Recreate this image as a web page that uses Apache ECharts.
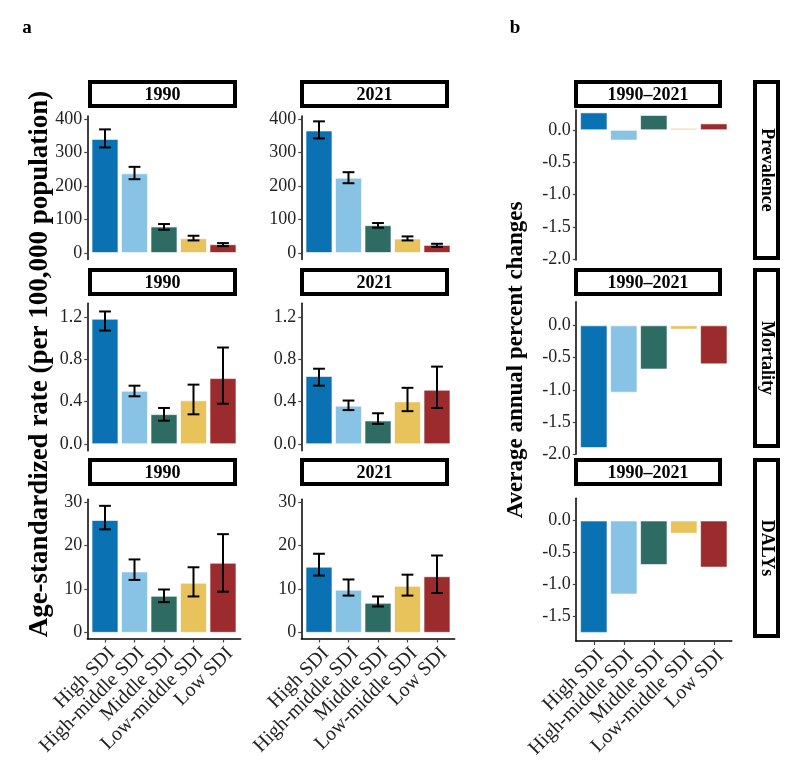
<!DOCTYPE html>
<html>
<head>
<meta charset="utf-8">
<script src="https://cdn.jsdelivr.net/npm/echarts@6/dist/echarts.min.js"></script>
<style>
  html, body { margin: 0; padding: 0; background: #fff; }
  #chart { width: 800px; height: 779px; }
</style>
</head>
<body>
<div id="chart"></div>
<script>
const categories = ['High SDI', 'High-middle SDI', 'Middle SDI', 'Low-middle SDI', 'Low SDI'];
const barColors = ['#0A72B3', '#88C3E6', '#2D6B63', '#E8C25B', '#9B2B2C'];

// a: age-standardized rates with uncertainty intervals
const prevalence1990 = [340, 237, 78, 43, 25];
const prevalence1990Lower = [315, 220, 69, 37, 20];
const prevalence1990Upper = [369, 257, 86, 51, 29];
const prevalence2021 = [365, 224, 82, 42, 23];
const prevalence2021Lower = [342, 208, 75, 37, 18];
const prevalence2021Upper = [393, 241, 89, 49, 27];

const mortality1990 = [1.18, 0.50, 0.28, 0.41, 0.62];
const mortality1990Lower = [1.07, 0.45, 0.22, 0.28, 0.38];
const mortality1990Upper = [1.25, 0.55, 0.34, 0.56, 0.91];
const mortality2021 = [0.64, 0.36, 0.22, 0.40, 0.51];
const mortality2021Lower = [0.55, 0.32, 0.19, 0.31, 0.34];
const mortality2021Upper = [0.71, 0.41, 0.29, 0.53, 0.73];

const dalys1990 = [25.8, 14.0, 8.4, 11.4, 16.0];
const dalys1990Lower = [23.7, 12.1, 7.0, 8.3, 9.4];
const dalys1990Upper = [29.1, 16.8, 9.9, 15.0, 22.6];
const dalys2021 = [15.1, 9.8, 6.8, 10.7, 12.9];
const dalys2021Lower = [13.1, 8.5, 6.0, 8.5, 9.1];
const dalys2021Upper = [18.1, 12.2, 8.3, 13.3, 17.7];

// b: average annual percent change 1990-2021
const aapcPrevalence = [0.27, -0.16, 0.23, 0.03, 0.10];
const aapcMortality = [-1.90, -1.04, -0.68, -0.06, -0.60];
const aapcDalys = [-1.75, -1.15, -0.69, -0.20, -0.73];

// tick labels
const prevalenceTicks = [0, 100, 200, 300, 400];
const mortalityTicks = [0, 0.4, 0.8, 1.2];
const dalysTicks = [0, 10, 20, 30];
const aapcTicks = [-2, -1.5, -1, -0.5, 0];
const aapcDalysTicks = [-1.5, -1, -0.5, 0];
const catTicks = [0, 1, 2, 3, 4];

const FONT = 'Liberation Serif';

// panel layout (pixels)
const cols = [
  { l: 87.3, r: 240.7 },
  { l: 301.3, r: 454.7 },
  { l: 575.8, r: 731.8 }
];

const panels = [
  { col: 0, top: 116, bottom: 259.5, min: -20, max: 409, ticks: prevalenceTicks, dec: 0, vals: prevalence1990, lo: prevalence1990Lower, hi: prevalence1990Upper, xaxis: false },
  { col: 1, top: 116, bottom: 259.5, min: -20, max: 409, ticks: prevalenceTicks, dec: 0, vals: prevalence2021, lo: prevalence2021Lower, hi: prevalence2021Upper, xaxis: false },
  { col: 2, top: 110, bottom: 260, min: -2.01, max: 0.31, ticks: aapcTicks, dec: 1, vals: aapcPrevalence, xaxis: false },
  { col: 0, top: 303.3, bottom: 450.7, min: -0.063, max: 1.327, ticks: mortalityTicks, dec: 1, vals: mortality1990, lo: mortality1990Lower, hi: mortality1990Upper, xaxis: false },
  { col: 1, top: 303.3, bottom: 450.7, min: -0.063, max: 1.327, ticks: mortalityTicks, dec: 1, vals: mortality2021, lo: mortality2021Lower, hi: mortality2021Upper, xaxis: false },
  { col: 2, top: 301.7, bottom: 454.3, min: -2.0, max: 0.37, ticks: aapcTicks, dec: 1, vals: aapcMortality, xaxis: false },
  { col: 0, top: 499.3, bottom: 638.5, min: -1.35, max: 30.6, ticks: dalysTicks, dec: 0, vals: dalys1990, lo: dalys1990Lower, hi: dalys1990Upper, xaxis: true },
  { col: 1, top: 499.3, bottom: 638.5, min: -1.35, max: 30.6, ticks: dalysTicks, dec: 0, vals: dalys2021, lo: dalys2021Lower, hi: dalys2021Upper, xaxis: true },
  { col: 2, top: 498.3, bottom: 641, min: -1.88, max: 0.35, ticks: aapcDalysTicks, dec: 1, vals: aapcDalys, xaxis: true }
];

const grid = [];
const xAxis = [];
const yAxis = [];
const series = [];

panels.forEach((p, i) => {
  const c = cols[p.col];
  const unit = (c.r - c.l) / 5.2;
  grid.push({ left: c.l, top: p.top, width: c.r - c.l, height: p.bottom - p.top });

  xAxis.push({
    type: 'value',
    gridIndex: i,
    min: -0.6,
    max: 4.6,
    splitLine: { show: false },
    axisLine: { show: p.xaxis, onZero: false, lineStyle: { color: '#000', width: 1.5 } },
    axisTick: { show: p.xaxis, customValues: catTicks, length: 4, lineStyle: { color: '#444', width: 1.2 } },
    axisLabel: {
      show: p.xaxis,
      customValues: catTicks,
      rotate: 45,
      margin: 5,
      verticalAlign: 'top',
      fontFamily: FONT,
      fontSize: 20,
      color: '#222',
      formatter: v => categories[Math.round(v)]
    }
  });

  yAxis.push({
    type: 'value',
    gridIndex: i,
    min: p.min,
    max: p.max,
    splitLine: { show: false },
    axisLine: { show: true, onZero: false, lineStyle: { color: '#000', width: 1.5 } },
    axisTick: { show: true, customValues: p.ticks, length: 3, lineStyle: { color: '#444', width: 1.2 } },
    axisLabel: {
      customValues: p.ticks,
      margin: 5,
      fontFamily: FONT,
      fontSize: 18,
      color: '#222',
      formatter: v => v.toFixed(p.dec)
    }
  });

  series.push({
    type: 'bar',
    xAxisIndex: i,
    yAxisIndex: i,
    barWidth: unit * 0.9,
    silent: true,
    z: 2,
    data: p.vals.map((v, k) => ({
      value: [k, v],
      itemStyle: { color: barColors[k], borderColor: '#fff', borderWidth: 0.6 }
    }))
  });

  if (p.lo) {
    series.push({
      type: 'custom',
      xAxisIndex: i,
      yAxisIndex: i,
      silent: true,
      clip: false,
      z: 10,
      encode: { x: 0, y: [1, 2] },
      data: p.lo.map((lo, k) => [k, lo, p.hi[k]]),
      renderItem: (params, api) => {
        const x = api.value(0);
        const pLo = api.coord([x, api.value(1)]);
        const pHi = api.coord([x, api.value(2)]);
        const hw = api.size([0.2, 0])[0];
        const style = { stroke: '#000', lineWidth: 2 };
        return {
          type: 'group',
          children: [
            { type: 'line', shape: { x1: pLo[0], y1: pLo[1], x2: pHi[0], y2: pHi[1] }, style },
            { type: 'line', shape: { x1: pLo[0] - hw, y1: pLo[1], x2: pLo[0] + hw, y2: pLo[1] }, style },
            { type: 'line', shape: { x1: pHi[0] - hw, y1: pHi[1], x2: pHi[0] + hw, y2: pHi[1] }, style }
          ]
        };
      }
    });
  }
});

// facet strips
const stripCols = [{ x: 88, w: 149 }, { x: 300, w: 149 }, { x: 574, w: 148 }];
const stripRows = [80, 268, 458];
const stripLabels = ['1990', '2021', '1990\u20132021'];
const rowLabels = ['Prevalence', 'Mortality', 'DALYs'];

const graphic = [];
stripRows.forEach((y, r) => {
  stripCols.forEach((s, c) => {
    graphic.push({
      type: 'rect',
      shape: { x: s.x + 2, y: y + 2, width: s.w - 4, height: 24 },
      style: { fill: '#fff', stroke: '#000', lineWidth: 4 }
    });
    graphic.push({
      type: 'text',
      x: s.x + s.w / 2,
      y: y + 15,
      style: { text: stripLabels[c], font: 'bold 18px "Liberation Serif"', fill: '#000', align: 'center', verticalAlign: 'middle' }
    });
  });
  graphic.push({
    type: 'rect',
    shape: { x: 755, y: y + 2, width: 23, height: 176 },
    style: { fill: '#fff', stroke: '#000', lineWidth: 4 }
  });
  graphic.push({
    type: 'text',
    x: 767,
    y: y + 90,
    rotation: -Math.PI / 2,
    style: { text: rowLabels[r], font: 'bold 18px "Liberation Serif"', fill: '#000', align: 'center', verticalAlign: 'middle' }
  });
});

graphic.push(
  { type: 'text', x: 27, y: 28, style: { text: 'a', font: 'bold 19px "Liberation Serif"', fill: '#000', align: 'center', verticalAlign: 'middle' } },
  { type: 'text', x: 515, y: 28, style: { text: 'b', font: 'bold 19px "Liberation Serif"', fill: '#000', align: 'center', verticalAlign: 'middle' } },
  {
    type: 'text', x: 40, y: 364, rotation: Math.PI / 2,
    style: { text: 'Age-standardized rate (per 100,000 population)', font: 'bold 27px "Liberation Serif"', fill: '#000', align: 'center', verticalAlign: 'middle' }
  },
  {
    type: 'text', x: 516, y: 360, rotation: Math.PI / 2,
    style: { text: 'Average annual percent changes', font: 'bold 23px "Liberation Serif"', fill: '#000', align: 'center', verticalAlign: 'middle' }
  }
);

const chart = echarts.init(document.getElementById('chart'));
chart.setOption({
  animation: false,
  backgroundColor: '#fff',
  grid,
  xAxis,
  yAxis,
  series,
  graphic
});
</script>
</body>
</html>
